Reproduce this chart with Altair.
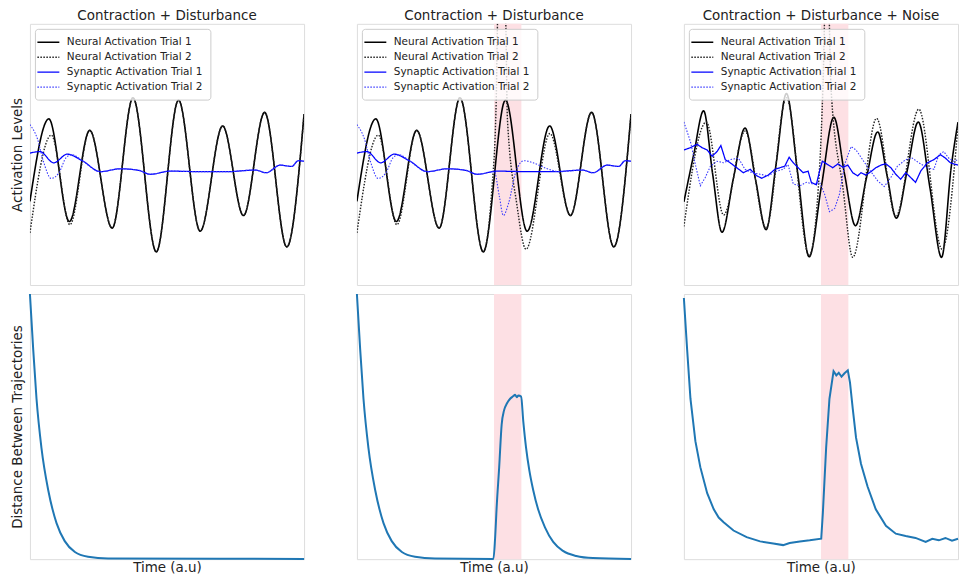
import altair as alt
import pandas as pd

TITLES = ["Contraction + Disturbance", "Contraction + Disturbance",
          "Contraction + Disturbance + Noise"]
SERIES = ["Neural Activation Trial 1", "Neural Activation Trial 2",
          "Synaptic Activation Trial 1", "Synaptic Activation Trial 2"]
BAND_START = [50.0]
BAND_END = [60.0]

# ---------- top row, columns 1 and 2 (shared trial 1) ----------
NEU1_T = [0, 6.9, 14.4, 21.8, 30.0, 37.6, 46.1, 54.2, 62.1, 70.3, 77.9, 85.6, 93.7, 100]
NEU1_V = [32.0, 63.6, 24.3, 59.2, 21.8, 71.7, 12.7, 70.8, 20.6, 60.9, 26.6, 66.1, 14.6, 65.5]

NEU2_C1_T = [0, 7.8, 14.6, 21.8, 30.0, 37.6, 46.1, 54.2, 62.1, 70.3, 77.9, 85.6, 93.7, 100]
NEU2_C1_V = [20.0, 57.4, 23.1, 59.2, 21.8, 71.7, 12.7, 70.8, 20.6, 60.9, 26.6, 66.1, 14.6, 65.5]

NEU2_C2_T = [0, 7.8, 14.6, 21.8, 30.0, 37.6, 46.1, 49.2, 50.8, 51.3, 52.7, 54.3, 54.9,
             58.3, 61.7, 70.4, 77.9, 85.6, 93.7, 100]
NEU2_C2_V = [20.0, 57.4, 23.1, 59.2, 21.8, 71.7, 12.7, 36.2, 69.8, 101, 132, 101, 63.6,
             31.2, 13.7, 58.0, 26.6, 66.1, 14.6, 65.5]

SYN1_T = [0, 3.6, 8.7, 13.6, 19.1, 25.7, 33.0, 39.7, 43.9, 51.2, 62.1, 71.8, 82.2, 86.2,
          91.3, 95.5, 97.9, 100]
SYN1_V = [50.5, 51.1, 46.8, 50.1, 47.6, 43.4, 44.5, 43.9, 42.4, 43.6, 43.4, 43.4, 44.0, 43.0,
          45.9, 45.4, 47.6, 47.4]

SYN2_C1_T = [0, 2.7, 4.9, 7.8, 10.6, 13.3, 15.4, 19.1, 25.7, 33.0, 39.7, 43.9, 51.2, 62.1,
             71.8, 82.2, 86.2, 91.3, 95.5, 97.9, 100]
SYN2_C1_V = [61.4, 56.1, 47.4, 40.8, 43.0, 48.9, 49.9, 47.6, 43.4, 44.5, 43.9, 42.4, 43.6, 43.4,
             43.4, 44.0, 43.0, 45.9, 45.4, 47.6, 47.4]

SYN2_C2_T = [0, 2.7, 4.9, 7.8, 10.6, 13.3, 15.4, 19.1, 25.7, 33.0, 39.7, 43.9, 50.1, 52.0,
             53.4, 55.3, 58.0, 60.9, 64.3, 69.2, 74.0, 82.2, 86.2, 91.3, 95.5, 97.9, 100]
SYN2_C2_V = [61.4, 56.1, 47.4, 40.8, 43.0, 48.9, 49.9, 47.6, 43.4, 44.5, 43.9, 42.4, 43.4, 33.7,
             26.6, 31.2, 43.4, 47.6, 46.8, 44.6, 43.4, 44.0, 43.0, 45.9, 45.4, 47.6, 47.4]

# ---------- top row, column 3 (noise) ----------
NEU1_C3_T = [0, 3.6, 7.2, 10.5, 13.9, 18.1, 22.3, 26.2, 30.0, 33.6, 37.4, 41.5, 45.7, 50.2,
             54.7, 58.6, 62.6, 66.6, 70.7, 74.1, 77.5, 81.5, 85.5, 89.8, 94.0, 97.5, 100]
NEU1_C3_V = [31.8, 50.0, 66.7, 42.5, 20.2, 41.0, 60.1, 40.0, 21.2, 46.0, 73.3, 43.0, 10.8, 38.0,
             64.2, 42.5, 22.7, 41.0, 58.6, 42.0, 25.6, 44.0, 62.4, 37.0, 10.6, 45.0, 62.4]

NEU2_C3_T = [0, 8.2, 14.5, 22.3, 30.0, 37.4, 45.7, 49.5, 50.7, 52.2, 53.7, 58.0, 61.6, 70.3,
             77.3, 85.7, 94.2, 100]
NEU2_C3_V = [22.4, 62.4, 26.8, 58.9, 21.8, 71.7, 11.2, 44.9, 74.8, 132, 74.8, 37.4, 10.6, 63.8,
             26.2, 67.3, 13.7, 61.1]

SYN1_C3_T = [0, 2.4, 4.8, 6.6, 8.5, 10.3, 12.1, 13.5, 15.1, 16.9, 19.3, 21.7, 24.2, 26.6, 28.4,
             30.8, 33.2, 35.0, 36.8, 38.4, 39.9, 41.7, 43.5, 45.3, 46.5, 48.3, 49.5, 50.5,
             52.5, 54.3, 56.2, 58.0, 59.8, 61.6, 63.4, 64.6, 66.4, 68.2, 70.0, 71.9, 73.7,
             75.5, 77.3, 79.1, 80.9, 82.7, 84.5, 86.4, 88.8, 91.2, 93.6, 95.4, 97.2, 100]
SYN1_C3_V = [51.7, 52.6, 53.9, 52.6, 51.7, 49.3, 51.1, 53.4, 48.0, 46.8, 44.9, 43.0, 44.3, 41.8,
             40.9, 42.1, 44.3, 44.9, 45.5, 48.9, 46.8, 44.9, 43.0, 43.6, 39.3, 38.4, 43.6, 47.4,
             46.1, 44.9, 46.4, 45.1, 45.9, 43.0, 41.8, 43.0, 42.1, 43.4, 44.9, 45.9, 46.4,
             44.9, 42.4, 40.5, 43.0, 41.2, 39.3, 43.6, 46.8, 48.0, 49.9, 48.6, 46.8, 45.9]

SYN2_C3_T = [0, 2.4, 4.2, 6.0, 7.8, 9.7, 12.1, 14.5, 16.9, 19.9, 22.3, 24.8, 27.8, 30.8, 33.8,
             36.2, 38.0, 39.9, 42.3, 44.7, 47.1, 49.5, 51.3, 53.1, 55.0, 56.8, 58.6, 61.0,
             62.8, 65.2, 67.6, 70.7, 73.1, 75.5, 77.9, 80.9, 83.3, 85.7, 88.8, 91.2, 93.0,
             94.8, 96.6, 98.4, 100]
SYN2_C3_V = [62.4, 54.9, 46.1, 38.0, 41.2, 45.5, 47.4, 46.8, 48.0, 48.6, 44.3, 43.0, 42.4, 41.8,
             43.6, 44.3, 46.1, 38.7, 38.0, 39.3, 38.7, 39.3, 34.9, 28.1, 29.3, 34.9, 46.1, 53.0,
             51.7, 48.0, 44.3, 39.9, 37.7, 41.2, 45.5, 48.0, 48.6, 46.8, 44.9, 44.3, 49.9,
             51.1, 48.6, 47.4, 48.0]

# ---------- bottom row: distance between trajectories ----------
DIST_C1_T = [0, 1.2, 2.4, 4.2, 6.7, 9.7, 12.7, 16.4, 21.2, 28.5, 100]
DIST_C1_V = [100, 79.0, 60.5, 42.0, 25.9, 13.6, 6.8, 2.7, 0.9, 0.25, 0.1]

DIST_C2_T = [0, 1.2, 2.4, 4.2, 6.7, 9.7, 12.7, 16.4, 21.2, 28.5, 49.8, 50.4, 51.0, 51.9, 52.8,
             53.7, 54.7, 55.9, 57.1, 57.7, 58.3, 58.9, 59.9, 60.7, 61.7, 62.9, 64.3, 66.1,
             68.6, 71.6, 75.2, 80.0, 86.1, 100]
DIST_C2_V = [100, 79.0, 60.5, 42.0, 25.9, 13.6, 6.8, 2.7, 0.9, 0.25, 0.1, 7.7, 20.0, 34.7, 50.7,
             56.2, 58.7, 60.5, 61.5, 62.0, 61.1, 61.7, 61.3, 51.9, 42.1, 33.5, 26.1, 18.8,
             12.0, 6.5, 3.1, 1.2, 0.4, 0.1]

DIST_C3_T = [0, 1.2, 2.4, 4.2, 6.0, 8.5, 10.9, 12.7, 14.5, 18.1, 22.9, 27.8, 32.6, 36.2, 38.6,
             42.3, 45.9, 50.1, 50.7, 51.9, 53.1, 54.6, 55.6, 56.5, 57.5, 58.6, 59.8, 60.6,
             61.6, 62.8, 64.6, 67.0, 70.0, 73.7, 77.3, 80.9, 84.5, 88.2, 90.6, 93.0, 95.4,
             97.8, 100]
DIST_C3_V = [98.5, 78.9, 60.5, 44.5, 34.7, 24.9, 18.8, 15.7, 13.9, 10.8, 8.3, 6.7, 5.9, 5.3, 6.1,
             6.7, 7.1, 7.7, 17.5, 42.1, 60.5, 70.9, 69.3, 70.3, 68.8, 70.1, 71.2, 66.6,
             56.8, 45.8, 36.0, 27.4, 18.8, 12.6, 9.6, 8.7, 8.0, 6.5, 7.7, 7.1, 8.0,
             7.0, 7.7]

W, H_TOP, H_BOT = 275, 262, 266
FONT = "DejaVu Sans"


def frame(pairs):
    rows = []
    for name, ts, vs in pairs:
        for t, v in zip(ts, vs):
            rows.append({"t": t, "v": v, "series": name})
    return pd.DataFrame(rows)


x_scale = alt.Scale(domain=[0, 100], nice=False, zero=False)
y_scale = alt.Scale(domain=[0, 100], nice=False, zero=False)
color_scale = alt.Scale(domain=SERIES, range=["#000000", "#222222", "#0000ff", "#3a3aff"])
dash_scale = alt.Scale(domain=SERIES, range=[[1, 0], [1.5, 1.5], [1, 0], [1.5, 1.5]])
legend = alt.Legend(title=None, orient="top-left", offset=5, symbolType="M-2,0H2",
                    symbolSize=121, symbolStrokeWidth=1.5, labelFontSize=10.5,
                    labelFont=FONT, labelColor="#222222", fillColor="rgba(255,255,255,0.8)",
                    strokeColor="#cccccc", cornerRadius=3, padding=7, rowPadding=3,
                    labelOffset=12)


def titled_axis(title, pad):
    return alt.Axis(title=title, labels=False, ticks=False, domain=False, grid=False,
                    titleFontSize=13.5, titleFontWeight="normal", titleColor="#222222",
                    titleFont=FONT, titlePadding=pad)


def band_layer(xaxis):
    bdf = pd.DataFrame({"start": BAND_START, "end": BAND_END})
    return alt.Chart(bdf).mark_rect(color="#fde0e4").encode(
        x=alt.X("start:Q", scale=x_scale, axis=xaxis), x2="end:Q")


def top_panel(title, neu, syn, band, yaxis, syn_interp):
    ndf = frame(neu)
    sdf = frame(syn)
    enc = dict(
        x=alt.X("t:Q", scale=x_scale, axis=None),
        y=alt.Y("v:Q", scale=y_scale, axis=yaxis),
        color=alt.Color("series:N", scale=color_scale, legend=legend),
        strokeDash=alt.StrokeDash("series:N", scale=dash_scale, legend=legend),
        strokeWidth=alt.StrokeWidth("series:N", scale=alt.Scale(domain=SERIES,
                                    range=[1.6, 1.1, 1.6, 1.1]), legend=None),
    )
    layers = []
    if band:
        layers.append(band_layer(None))
    layers.append(alt.Chart(ndf).mark_line(interpolate="monotone", clip=True).encode(**enc))
    layers.append(alt.Chart(sdf).mark_line(interpolate=syn_interp, clip=True).encode(**enc))
    return alt.layer(*layers).properties(
        width=W, height=H_TOP,
        title=alt.Title(title, fontSize=13.5, fontWeight="normal", font=FONT,
                        color="#222222", offset=1))


def bottom_panel(ts, vs, band, yaxis, interp):
    df = pd.DataFrame({"t": ts, "v": vs})
    xaxis = titled_axis("Time (a.u)", 1)
    layers = []
    if band:
        layers.append(band_layer(xaxis))
    layers.append(alt.Chart(df).mark_line(interpolate=interp, color="#1f77b4",
                                          strokeWidth=2).encode(
        x=alt.X("t:Q", scale=x_scale, axis=xaxis),
        y=alt.Y("v:Q", scale=y_scale, axis=yaxis)))
    return alt.layer(*layers).properties(width=W, height=H_BOT)


top1 = top_panel(TITLES[0],
                 [(SERIES[0], NEU1_T, NEU1_V), (SERIES[1], NEU2_C1_T, NEU2_C1_V)],
                 [(SERIES[2], SYN1_T, SYN1_V), (SERIES[3], SYN2_C1_T, SYN2_C1_V)],
                 False, titled_axis("Activation Levels", 5), "monotone")
top2 = top_panel(TITLES[1],
                 [(SERIES[0], NEU1_T, NEU1_V), (SERIES[1], NEU2_C2_T, NEU2_C2_V)],
                 [(SERIES[2], SYN1_T, SYN1_V), (SERIES[3], SYN2_C2_T, SYN2_C2_V)],
                 True, None, "monotone")
top3 = top_panel(TITLES[2],
                 [(SERIES[0], NEU1_C3_T, NEU1_C3_V), (SERIES[1], NEU2_C3_T, NEU2_C3_V)],
                 [(SERIES[2], SYN1_C3_T, SYN1_C3_V), (SERIES[3], SYN2_C3_T, SYN2_C3_V)],
                 True, None, "linear")

bot1 = bottom_panel(DIST_C1_T, DIST_C1_V, False,
                    titled_axis("Distance Between Trajectories", 5), "monotone")
bot2 = bottom_panel(DIST_C2_T, DIST_C2_V, True, None, "monotone")
bot3 = bottom_panel(DIST_C3_T, DIST_C3_V, True, None, "linear")

chart = alt.concat(top1, top2, top3, bot1, bot2, bot3, columns=3,
                   spacing={"row": 9, "column": 53}, bounds="flush").resolve_scale(
    color="independent", strokeDash="independent", strokeWidth="independent"
).properties(
    padding={"left": 2, "top": 0, "right": 0, "bottom": 0}
).configure_view(stroke="#666666", strokeWidth=1).configure(font=FONT)

chart.save("out.html", embed_options={"renderer": "svg", "actions": False})
